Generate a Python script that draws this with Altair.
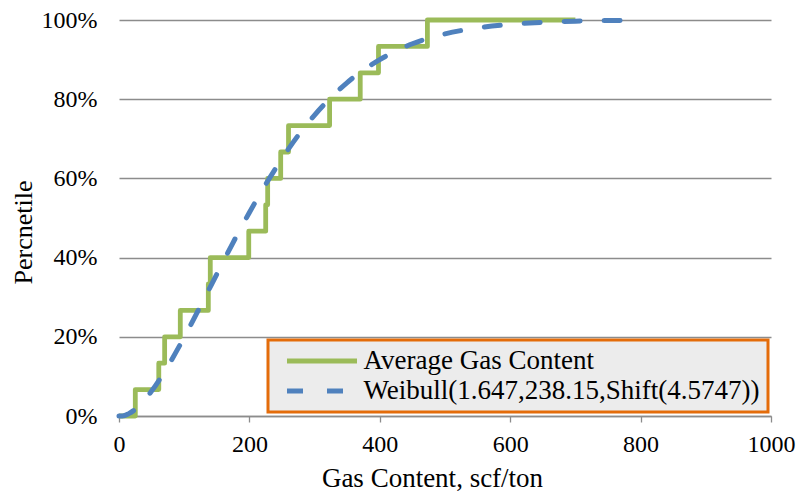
import altair as alt
import pandas as pd

# Empirical distribution of average gas content (step CDF)
gas_content = [0, 25, 61, 70, 94, 137, 140, 199, 225, 228, 248, 260, 323, 370, 398, 473, 700]
gas_percentile = [0.0, 0.0667, 0.1333, 0.2, 0.2667, 0.3333, 0.4, 0.4667, 0.5333, 0.6,
                  0.6667, 0.7333, 0.8, 0.8667, 0.9333, 1.0, 1.0]

# Fitted Weibull CDF
fit_x = [0, 5, 15, 25, 35, 50, 75, 100, 125, 150, 175, 200, 225, 250, 275, 300, 325,
         350, 375, 400, 450, 500, 550, 600, 650, 700, 750, 795]
fit_p = [0.0, 0.0, 0.006, 0.017, 0.033, 0.063, 0.126, 0.199, 0.278, 0.358, 0.438, 0.514,
         0.585, 0.650, 0.709, 0.760, 0.804, 0.842, 0.874, 0.900, 0.940, 0.965, 0.980,
         0.989, 0.994, 0.997, 0.9986, 0.9992]

series_names = ["Average Gas Content", "Weibull(1.647,238.15,Shift(4.5747))"]
series_colors = ["#9BBB59", "#4F81BD"]
series_dashes = [[1, 0], [16, 24]]

x_ticks = [0, 200, 400, 600, 800, 1000]
y_ticks = [0, 0.2, 0.4, 0.6, 0.8, 1.0]

empirical = pd.DataFrame({"x": gas_content, "p": gas_percentile, "series": series_names[0]})
fitted = pd.DataFrame({"x": fit_x, "p": fit_p, "series": series_names[1]})

FONT = "Liberation Serif"

x_enc = alt.X(
    "x:Q",
    scale=alt.Scale(domain=[0, 1000], nice=False),
    axis=alt.Axis(
        values=x_ticks, format="d", grid=False,
        domainColor="#8c8c8c", domainWidth=1.3,
        tickColor="#8c8c8c", tickWidth=1.3, tickSize=6,
        labelPadding=10, labelFlush=False, labelFontSize=24,
        title="Gas Content, scf/ton", titleFontSize=27, titleX=313, titleY=62,
        titleAlign="center", titleBaseline="middle",
    ),
)
y_enc = alt.Y(
    "p:Q",
    scale=alt.Scale(domain=[0, 1], nice=False),
    axis=alt.Axis(
        values=y_ticks, format=".0%", grid=True,
        gridColor="#8c8c8c", gridWidth=1.3,
        domain=False, ticks=False, labelPadding=22, labelFontSize=24,
        title="Percnetile", titleFontSize=26, titleX=-96, titleY=212,
        titleAlign="center", titleBaseline="middle",
    ),
)
color_enc = alt.Color(
    "series:N",
    scale=alt.Scale(domain=series_names, range=series_colors),
    legend=alt.Legend(
        title=None, orient="none", legendX=149, legendY=320,
        symbolType="stroke", symbolSize=4900, symbolStrokeWidth=5,
        symbolOffset=8.5, labelOffset=4, clipHeight=26, rowPadding=3,
        padding=8, labelFontSize=27, labelLimit=0,
        fillColor="#ececec", strokeColor="#E46C0A",
    ),
)
dash_enc = alt.StrokeDash(
    "series:N",
    scale=alt.Scale(domain=series_names, range=series_dashes),
    legend=alt.Legend(title=None),
)

empirical_line = alt.Chart(empirical).mark_line(
    interpolate="step-after", strokeWidth=4.8, strokeJoin="round"
).encode(x=x_enc, y=y_enc, color=color_enc, strokeDash=dash_enc)

fitted_line = alt.Chart(fitted).mark_line(
    interpolate="monotone", strokeWidth=5, strokeCap="round"
).encode(x=x_enc, y=y_enc, color=color_enc, strokeDash=dash_enc)

chart = (
    alt.layer(empirical_line, fitted_line)
    .properties(
        width=652, height=396,
        autosize=alt.AutoSizeParams(type="none"),
        padding={"left": 119, "top": 20, "right": 25, "bottom": 80},
        background="white",
    )
    .configure_view(strokeWidth=0)
    .configure_axis(
        labelFont=FONT, titleFont=FONT, labelColor="black", titleColor="black",
        titleFontWeight="normal",
    )
    .configure_legend(labelFont=FONT, labelColor="black", strokeWidth=3)
)

chart.save("out.html", embed_options={"renderer": "svg", "actions": False})
